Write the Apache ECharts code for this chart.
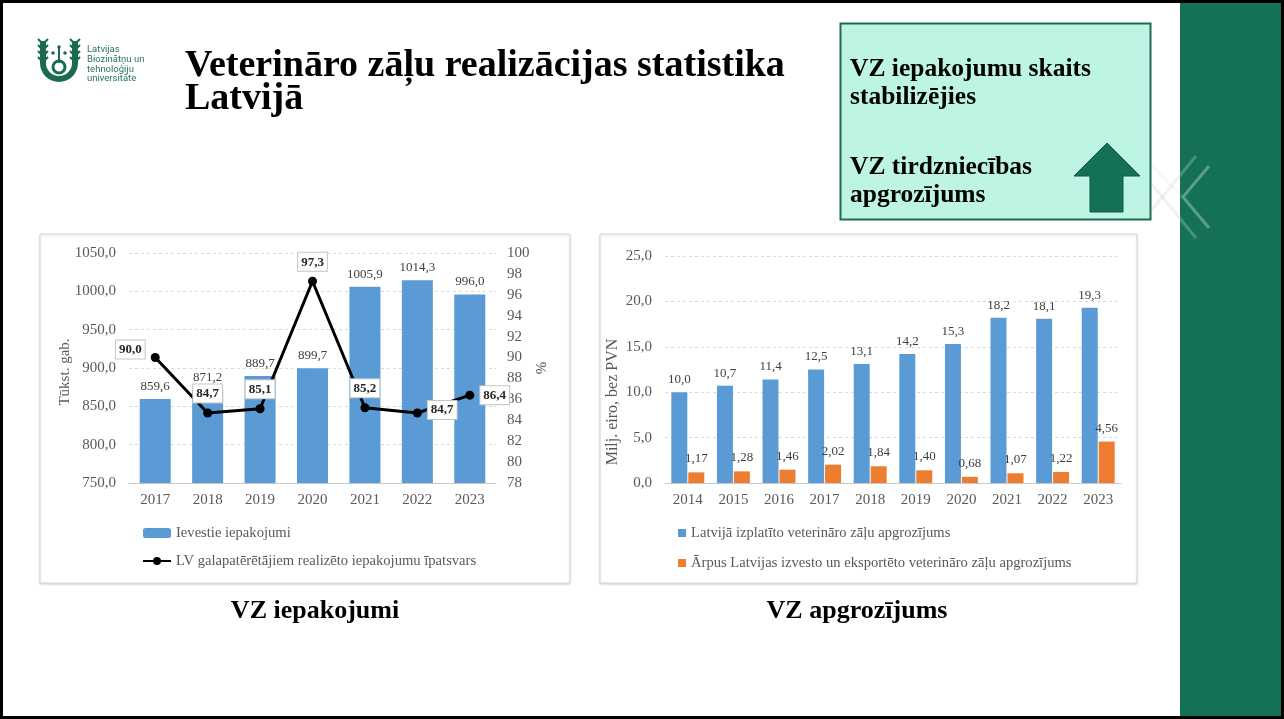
<!DOCTYPE html>
<html lang="lv">
<head>
<meta charset="utf-8">
<title>Veterināro zāļu realizācijas statistika Latvijā</title>
<script src="https://cdn.jsdelivr.net/npm/echarts@6/dist/echarts.min.js"></script>
<style>
    html, body { margin: 0; padding: 0; background: #fff; }
    #slide { width: 1284px; height: 719px; }
</style>
</head>
<body>
<div id="slide"></div>
<script>
// Left chart: imported packages and share sold to end users
const packageYears = ['2017', '2018', '2019', '2020', '2021', '2022', '2023'];
const importedPackages = [859.6, 871.2, 889.7, 899.7, 1005.9, 1014.3, 996.0];
const endUserShare = [90.0, 84.7, 85.1, 97.3, 85.2, 84.7, 86.4];
const shareLabelSide = ['left', 'top', 'top', 'top', 'top', 'right', 'right'];

// Right chart: turnover, million EUR without VAT
const turnoverYears = ['2014', '2015', '2016', '2017', '2018', '2019', '2020', '2021', '2022', '2023'];
const domesticTurnover = [10.0, 10.7, 11.4, 12.5, 13.1, 14.2, 15.3, 18.2, 18.1, 19.3];
const exportTurnover = [1.17, 1.28, 1.46, 2.02, 1.84, 1.40, 0.68, 1.07, 1.22, 4.56];

const seriesNames = [
    'Ievestie iepakojumi',
    'LV galapatērētājiem realizēto iepakojumu īpatsvars',
    'Latvijā izplatīto veterināro zāļu apgrozījums',
    'Ārpus Latvijas izvesto un eksportēto veterināro zāļu apgrozījums'
];

const SERIF = '"Liberation Serif", "Times New Roman", serif';
const GREY = '#595959';
const DARK_GREEN = '#147156';

function comma(v, digits) {
    return Number(v).toFixed(digits).replace('.', ',');
}

document.addEventListener('DOMContentLoaded', function() {
    const chart = echarts.init(document.getElementById('slide'));
    chart.setOption(buildOption());
});

function axisLabelStyle() {
    return { color: GREY, fontFamily: SERIF, fontSize: 15 };
}

function buildOption() {
    return {
        animation: false,
        backgroundColor: '#fff',
        textStyle: { fontFamily: SERIF },
        grid: [
            { left: 129, top: 253, width: 367, height: 230 },
            { left: 665, top: 256, width: 456, height: 227 }
        ],
        xAxis: [
            {
                type: 'category', gridIndex: 0, data: packageYears,
                axisLine: { lineStyle: { color: '#c8c8c8' } },
                axisTick: { show: false },
                axisLabel: Object.assign(axisLabelStyle(), { margin: 10 })
            },
            {
                type: 'category', gridIndex: 1, data: turnoverYears,
                axisLine: { lineStyle: { color: '#c8c8c8' } },
                axisTick: { show: false },
                axisLabel: Object.assign(axisLabelStyle(), { margin: 10 })
            }
        ],
        yAxis: [
            {
                type: 'value', gridIndex: 0, min: 750, max: 1050, interval: 50,
                axisLine: { show: false }, axisTick: { show: false },
                axisLabel: Object.assign(axisLabelStyle(), {
                    margin: 13, formatter: v => comma(v, 1)
                }),
                splitLine: { lineStyle: { color: '#d9d9d9', type: [3, 3] } }
            },
            {
                type: 'value', gridIndex: 0, position: 'right', min: 78, max: 100, interval: 2,
                axisLine: { show: false }, axisTick: { show: false },
                axisLabel: Object.assign(axisLabelStyle(), { margin: 11 }),
                splitLine: { show: false }
            },
            {
                type: 'value', gridIndex: 1, min: 0, max: 25, interval: 5,
                axisLine: { show: false }, axisTick: { show: false },
                axisLabel: Object.assign(axisLabelStyle(), {
                    margin: 13, formatter: v => comma(v, 1)
                }),
                splitLine: { lineStyle: { color: '#d9d9d9', type: [3, 3] } }
            }
        ],
        legend: [
            {
                orient: 'vertical', left: 142, top: 525, padding: 0,
                itemWidth: 28, itemHeight: 10, itemGap: 12,
                data: [seriesNames[0], seriesNames[1]],
                textStyle: { color: GREY, fontFamily: SERIF, fontSize: 14.6, lineHeight: 16 }
            },
            {
                orient: 'vertical', left: 678, top: 525, padding: 0,
                itemWidth: 8, itemHeight: 8, itemGap: 14, icon: 'rect',
                data: [seriesNames[2], seriesNames[3]],
                textStyle: { color: GREY, fontFamily: SERIF, fontSize: 14.6, lineHeight: 16 }
            }
        ],
        series: [
            {
                name: seriesNames[0], type: 'bar', xAxisIndex: 0, yAxisIndex: 0,
                data: importedPackages, barWidth: 31,
                itemStyle: { color: '#5B9BD5' },
                label: {
                    show: true, position: 'top', distance: 6,
                    color: '#404040', fontSize: 13, fontFamily: SERIF,
                    formatter: p => comma(p.value, 1)
                }
            },
            {
                name: seriesNames[1], type: 'line', xAxisIndex: 0, yAxisIndex: 1,
                data: endUserShare.map((v, i) => ({
                    value: v,
                    label: {
                        position: shareLabelSide[i],
                        offset: i === 0 ? [0, -8] : (i === 5 ? [0, -3] : [0, 0])
                    }
                })),
                symbol: 'circle', symbolSize: 9, z: 5,
                lineStyle: { color: '#000', width: 3 },
                itemStyle: { color: '#000' },
                label: {
                    show: true, distance: 6,
                    color: '#262626', fontSize: 13, fontWeight: 'bold', fontFamily: SERIF,
                    backgroundColor: '#fff', borderColor: '#c4c4c4', borderWidth: 1,
                    padding: [3, 3, 2, 3],
                    formatter: p => comma(p.value, 1)
                }
            },
            {
                name: seriesNames[2], type: 'bar', xAxisIndex: 1, yAxisIndex: 2,
                data: domesticTurnover, barWidth: 16, barGap: '6%',
                itemStyle: { color: '#5B9BD5' },
                label: {
                    show: true, position: 'top', distance: 6,
                    color: '#404040', fontSize: 13, fontFamily: SERIF,
                    formatter: p => comma(p.value, 1)
                }
            },
            {
                name: seriesNames[3], type: 'bar', xAxisIndex: 1, yAxisIndex: 2,
                data: exportTurnover, barWidth: 16,
                itemStyle: { color: '#ED7D31' },
                label: {
                    show: true, position: 'top', distance: 7,
                    color: '#404040', fontSize: 13, fontFamily: SERIF,
                    formatter: p => comma(p.value, 2)
                }
            }
        ],
        graphic: buildSlideGraphics()
    };
}

// Slide decoration: frame, green strip, logo, title, note box, captions
function buildSlideGraphics() {
    const items = [];
    const txt = (x, y, text, font, fill) => ({
        type: 'text', silent: true,
        style: { x: x, y: y, text: text, font: font, fill: fill, verticalAlign: 'middle' }
    });
    const vtxt = (x, y, text, font) => ({
        type: 'text', silent: true, rotation: Math.PI / 2, x: x, y: y,
        style: { x: 0, y: 0, text: text, font: font, fill: GREY, align: 'center', verticalAlign: 'middle' }
    });
    const boxStyle = { fill: '#fff', stroke: '#dadada', lineWidth: 1, shadowBlur: 2, shadowColor: 'rgba(0,0,0,0.15)', shadowOffsetY: 1 };

    // chart frames (behind the charts)
    items.push({ type: 'rect', z: -10, shape: { x: 40, y: 234, width: 530, height: 349 }, style: boxStyle });
    items.push({ type: 'rect', z: -10, shape: { x: 600, y: 234, width: 537, height: 349 }, style: boxStyle });

    // green strip with faint chevrons
    items.push({ type: 'rect', z: -5, shape: { x: 1180, y: 0, width: 102, height: 719 }, style: { fill: DARK_GREEN } });
    items.push({ type: 'polyline', shape: { points: [[1209, 166], [1183, 197], [1209, 228]] }, style: { stroke: 'rgba(220,240,232,0.35)', lineWidth: 3, fill: null } });
    items.push({ type: 'line', shape: { x1: 1196, y1: 156, x2: 1150, y2: 212 }, style: { stroke: 'rgba(200,215,210,0.3)', lineWidth: 3 } });
    items.push({ type: 'line', shape: { x1: 1150, y1: 182, x2: 1196, y2: 238 }, style: { stroke: 'rgba(200,215,210,0.3)', lineWidth: 3 } });
    items.push({ type: 'line', shape: { x1: 1130, y1: 145, x2: 1183, y2: 197 }, style: { stroke: 'rgba(200,200,200,0.12)', lineWidth: 3 } });

    // outer slide frame
    items.push({ type: 'rect', z: 50, shape: { x: 1.5, y: 1.5, width: 1281, height: 716 },
        style: { fill: null, stroke: '#000', lineWidth: 3 } });

    // logo: U ring with two wheat arms and a gear
    const logo = '#1b6b4f';
    items.push({ type: 'sector', shape: { cx: 59, cy: 63, r: 19, r0: 13, startAngle: 0, endAngle: Math.PI }, style: { fill: logo } });
    items.push({ type: 'rect', shape: { x: 40, y: 41, width: 6, height: 22 }, style: { fill: logo } });
    items.push({ type: 'rect', shape: { x: 72, y: 41, width: 6, height: 22 }, style: { fill: logo } });
    [42, 48, 54, 60].forEach(y => {
        items.push({ type: 'polyline', shape: { points: [[38, y - 3], [43, y + 2], [48, y - 3]] }, style: { stroke: logo, lineWidth: 2, fill: null } });
        items.push({ type: 'polyline', shape: { points: [[70, y - 3], [75, y + 2], [80, y - 3]] }, style: { stroke: logo, lineWidth: 2, fill: null } });
    });
    items.push({ type: 'circle', shape: { cx: 59, cy: 67, r: 6 }, style: { fill: null, stroke: logo, lineWidth: 3 } });
    items.push({ type: 'line', shape: { x1: 59, y1: 48, x2: 59, y2: 63 }, style: { stroke: logo, lineWidth: 2 } });
    items.push({ type: 'circle', shape: { cx: 53, cy: 53, r: 1.8 }, style: { fill: logo } });
    items.push({ type: 'circle', shape: { cx: 65, cy: 53, r: 1.8 }, style: { fill: logo } });
    items.push({ type: 'circle', shape: { cx: 59, cy: 47, r: 1.8 }, style: { fill: logo } });
    ['Latvijas', 'Biozinātņu un', 'tehnoloģiju', 'universitāte'].forEach((t, i) => {
        items.push(txt(87, 50 + i * 9.6, t, '9.5px Roboto', '#2a7558'));
    });

    // title
    items.push(txt(185, 66, 'Veterināro zāļu realizācijas statistika', 'bold 38px ' + SERIF, '#000'));
    items.push(txt(185, 99, 'Latvijā', 'bold 38px ' + SERIF, '#000'));

    // note box with arrow
    items.push({ type: 'rect', shape: { x: 840.5, y: 23.5, width: 310, height: 196 },
        style: { fill: '#BDF4E4', stroke: '#1f6b55', lineWidth: 2 } });
    items.push(txt(850, 69, 'VZ iepakojumu skaits', 'bold 25.5px ' + SERIF, '#000'));
    items.push(txt(850, 97, 'stabilizējies', 'bold 25.5px ' + SERIF, '#000'));
    items.push(txt(850, 167, 'VZ tirdzniecības', 'bold 25.5px ' + SERIF, '#000'));
    items.push(txt(850, 195, 'apgrozījums', 'bold 25.5px ' + SERIF, '#000'));
    items.push({ type: 'polygon', shape: { points: [[1107, 143], [1140, 176], [1123, 176], [1123, 212], [1090, 212], [1090, 176], [1074, 176]] },
        style: { fill: DARK_GREEN, stroke: '#0f5a44', lineWidth: 1 } });

    // axis titles
    items.push(vtxt(65, 372, 'Tūkst. gab.', '15px ' + SERIF));
    items.push(vtxt(542, 368, '%', '15px ' + SERIF));
    items.push(vtxt(613, 402, 'Milj. eiro, bez PVN', '16px ' + SERIF));

    // captions under charts
    items.push({ type: 'text', style: { x: 315, y: 611, text: 'VZ iepakojumi', font: 'bold 26px ' + SERIF, fill: '#000', align: 'center', verticalAlign: 'middle' } });
    items.push({ type: 'text', style: { x: 857, y: 611, text: 'VZ apgrozījums', font: 'bold 26px ' + SERIF, fill: '#000', align: 'center', verticalAlign: 'middle' } });

    return items;
}
</script>
</body>
</html>
